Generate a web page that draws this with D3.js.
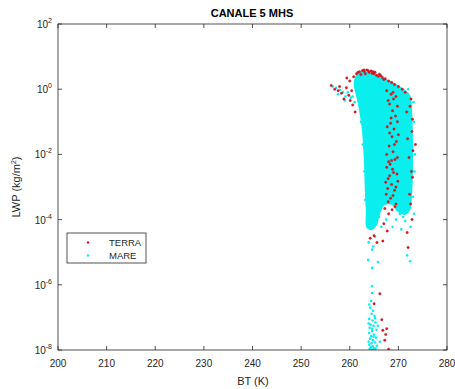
<!DOCTYPE html>
<html>
<head>
<meta charset="utf-8">
<script src="https://cdn.jsdelivr.net/npm/d3@7"></script>
<style>
  body { margin: 0; background: #fff; }
  svg { display: block; font-family: "Liberation Sans", Arial, sans-serif; }
</style>
</head>
<body>
<svg width="455" height="389"></svg>
<script>
// tick values
const xTicks = [200, 210, 220, 230, 240, 250, 260, 270, 280];
const yExps = [2, 0, -2, -4, -6, -8];

// outline of the dense MARE cloud (BT, LWP)
const cloudBT = [260.9, 261.5, 262.5, 264.2, 265.8, 267.9, 269.9, 271.4, 272.4, 272.8, 273.0, 273.0, 272.8,
  272.4, 271.4, 269.9, 268.7, 267.2, 266.2, 265.6, 264.6, 263.5, 263.3, 263.1, 262.9, 262.5, 261.9, 261.4, 260.9];
const cloudLWP = [1.9, 2.95, 3.4, 3.2, 2.5, 1.9, 1.35, 0.95, 0.66, 0.23, 0.028, 3.3e-3, 5.6e-4,
  1.9e-4, 1.4e-4, 1.7e-4, 2.8e-4, 2.8e-4, 1.4e-4, 6.8e-5, 4.8e-5, 5.5e-5, 1.9e-4, 8.1e-4, 6.8e-3, 0.056, 0.23, 0.54, 1.1];

// MARE scatter points outside / on the edge of the cloud
const mare = [
  [256.5, 1.2], [257.2, 1.1], [258.0, 0.95], [258.6, 0.8], [259.1, 0.6], [259.6, 0.8], [260.2, 0.55],
  [260.6, 0.6], [261.0, 0.4], [257.6, 0.7], [259.0, 0.45], [262.3, 0.1], [262.7, 0.02], [263.0, 3e-3],
  [263.2, 4e-4], [273.2, 0.1], [273.1, 0.4], [272.0, 1.0], [273.0, 5e-4],
  [270.3, 1.5e-4], [271.0, 1.2e-4], [272.0, 2e-4], [271.4, 9e-5], [272.5, 6e-5], [270.6, 5e-5],
  [271.8, 8e-6], [272.4, 5.3e-6], [273.2, 1.5e-4], [273.4, 0.01], [273.3, 0.003], [269.5, 1e-4],
  [268.8, 6e-5], [267.5, 1e-4], [266.5, 6e-5], [266.0, 1.2e-4], [264.8, 1.5e-5], [265.8, 5e-6],
  [263.8, 5.8e-6], [264.6, 1.2e-5], [263.9, 2e-5], [265.2, 3e-5],
  [264.6, 3.3e-6], [264.6, 9e-7], [264.6, 5.6e-7], [264.4, 3.2e-7], [264.0, 2.5e-7],
  [264.2, 2.0e-7], [264.8, 1.6e-7], [264.5, 1.3e-7], [265.1, 1.1e-7], [264.0, 9e-8], [264.7, 8e-8],
  [265.3, 7e-8], [264.3, 6e-8], [264.9, 5.5e-8], [264.1, 4.8e-8], [265.5, 4.2e-8], [264.6, 3.8e-8],
  [264.0, 3.3e-8], [265.0, 3.0e-8], [264.4, 2.7e-8], [265.4, 2.4e-8], [264.2, 2.2e-8], [264.8, 2.0e-8],
  [263.9, 1.8e-8], [265.2, 1.7e-8], [264.5, 1.6e-8], [264.0, 1.45e-8], [265.6, 1.35e-8], [264.7, 1.3e-8],
  [264.3, 1.2e-8], [265.0, 1.15e-8], [264.1, 1.08e-8], [264.9, 1.05e-8], [264.5, 1.02e-8], [265.3, 1.1e-8],
  [264.9, 2.6e-8], [265.8, 5.5e-8], [266.2, 1.8e-8], [264.6, 4.5e-8], [263.9, 6.5e-8], [265.2, 9.5e-8]
];

// TERRA scatter points
const terra = [
  [259.4, 2.2], [260.0, 1.8], [260.8, 2.4], [261.4, 3.0], [262.0, 3.4], [262.6, 3.7], [263.0, 3.5],
  [263.5, 3.9], [264.0, 3.3], [264.4, 3.6], [265.0, 3.0], [265.5, 2.7], [266.1, 2.9], [266.7, 2.3],
  [267.3, 2.1], [268.0, 1.8], [268.6, 1.6], [269.2, 1.4], [270.0, 1.2], [270.8, 1.0], [271.4, 0.8],
  [263.2, 3.0], [262.3, 2.8], [264.8, 3.4], [261.7, 3.3], [262.9, 3.9], [263.8, 3.7], [264.6, 3.1],
  [265.2, 3.3], [265.9, 2.5], [266.4, 2.6], [267.0, 2.0],
  [256.2, 1.3], [256.9, 1.0], [257.6, 0.9], [258.3, 0.75], [259.3, 1.1], [259.8, 0.65], [260.1, 0.45],
  [260.6, 0.33], [261.1, 0.2], [258.8, 0.5], [257.9, 1.2], [260.4, 0.9],
  [268.5, 0.7], [269.0, 0.5], [268.2, 0.35], [268.8, 0.22], [269.4, 0.15], [268.4, 0.09], [269.1, 0.06],
  [268.7, 0.035], [269.6, 0.025], [268.1, 0.018], [268.9, 0.012], [269.3, 7e-3], [268.3, 5e-3],
  [268.8, 3.5e-3], [269.7, 2.5e-3], [267.9, 1.8e-3], [268.6, 1.2e-3], [269.2, 8e-4], [267.5, 6e-4],
  [268.4, 4.5e-4], [269.5, 3e-4], [267.2, 2.2e-4], [268.0, 1.5e-4], [269.3, 2.5e-4], [267.8, 9e-4],
  [270.0, 0.04], [268.0, 0.006], [269.9, 0.0015],
  [267.6, 0.9], [268.9, 0.8], [269.5, 0.6], [267.9, 0.45], [269.8, 0.3], [268.5, 0.13], [267.7, 0.07],
  [269.8, 0.1], [268.2, 0.045], [269.2, 0.02], [267.6, 0.01], [269.8, 0.008], [268.6, 0.0065],
  [267.6, 0.004], [269.0, 0.0028], [268.2, 0.0022], [267.4, 0.0014], [269.5, 0.001], [268.9, 5.5e-4],
  [267.9, 3.5e-4], [268.7, 2e-4],
  [272.6, 0.5], [272.9, 0.12], [273.0, 0.013], [272.7, 3e-3], [272.3, 6e-4], [271.9, 0.03], [272.8, 1e-4],
  [272.4, 0.3], [272.8, 0.05], [272.2, 0.008], [272.9, 0.002], [272.5, 3e-4], [271.7, 0.2], [273.5, 0.02],
  [264.2, 2.7e-5], [265.6, 2e-5], [266.8, 2.2e-5], [267.7, 4.5e-5], [267.0, 7.5e-5], [271.8, 4e-5],
  [272.0, 1.4e-5], [265.0, 3.2e-5], [266.2, 5.3e-7], [265.0, 2.6e-7], [266.6, 8.5e-8], [267.6, 4.5e-8],
  [266.8, 4e-8], [267.2, 2e-8], [268.0, 1.05e-8], [267.4, 3e-8]
];

const svg = d3.select('svg');
const mLeft = 58, mTop = 24, mRight = 447, mBottom = 350;
const ink = '#262626';
const cyan = '#0aeeee';
const red = '#e8141c';

const x = d3.scaleLinear().domain([200, 280]).range([mLeft, mRight]);
const y = d3.scaleLog().domain([1e-8, 1e2]).range([mBottom, mTop]);

const plot = svg.append('g');
plot.append('clipPath').attr('id', 'clip')
  .append('rect').attr('x', mLeft).attr('y', mTop).attr('width', mRight - mLeft).attr('height', mBottom - mTop);
const marks = plot.append('g').attr('clip-path', 'url(#clip)');

// dense cloud
const cloud = d3.line().x(d => x(d[0])).y(d => y(d[1])).curve(d3.curveCatmullRomClosed);
marks.append('path')
  .datum(cloudBT.map((b, i) => [b, cloudLWP[i]]))
  .attr('d', cloud)
  .attr('fill', cyan);

marks.selectAll('.mare').data(mare).join('circle')
  .attr('cx', d => x(d[0])).attr('cy', d => y(d[1])).attr('r', 1.3)
  .attr('fill', cyan);

marks.selectAll('.terra').data(terra).join('circle')
  .attr('cx', d => x(d[0])).attr('cy', d => y(d[1])).attr('r', 1.25)
  .attr('fill', red).attr('stroke', '#9a2030').attr('stroke-width', 0.3);

// axes box and inward ticks
const axes = svg.append('g').attr('stroke', ink).attr('stroke-width', 0.8).attr('fill', 'none');
axes.append('rect').attr('x', mLeft).attr('y', mTop).attr('width', mRight - mLeft).attr('height', mBottom - mTop);
xTicks.forEach(t => {
  axes.append('line').attr('x1', x(t)).attr('x2', x(t)).attr('y1', mBottom).attr('y2', mBottom - 4);
  axes.append('line').attr('x1', x(t)).attr('x2', x(t)).attr('y1', mTop).attr('y2', mTop + 4);
});
yExps.forEach(e => {
  axes.append('line').attr('x1', mLeft).attr('x2', mLeft + 4).attr('y1', y(10 ** e)).attr('y2', y(10 ** e));
  axes.append('line').attr('x1', mRight).attr('x2', mRight - 4).attr('y1', y(10 ** e)).attr('y2', y(10 ** e));
});

// tick labels
svg.append('g').selectAll('text').data(xTicks).join('text')
  .attr('x', d => x(d)).attr('y', 367)
  .attr('text-anchor', 'middle').attr('font-size', 10).attr('fill', ink)
  .text(d => d);

const yl = svg.append('g').selectAll('text').data(yExps).join('text')
  .attr('x', 52).attr('y', d => y(10 ** d) + 4)
  .attr('text-anchor', 'end').attr('font-size', 10).attr('fill', ink);
yl.append('tspan').text('10');
yl.append('tspan').attr('dy', -5).attr('font-size', 7).text(d => d);

// titles
svg.append('text').attr('x', 252).attr('y', 17).attr('text-anchor', 'middle')
  .attr('font-size', 11).attr('font-weight', 'bold').attr('fill', '#000').text('CANALE 5 MHS');
svg.append('text').attr('x', 253).attr('y', 385).attr('text-anchor', 'middle')
  .attr('font-size', 11).attr('fill', ink).text('BT (K)');
const ylab = svg.append('text').attr('transform', `translate(20,${(mTop + mBottom) / 2}) rotate(-90)`)
  .attr('text-anchor', 'middle').attr('font-size', 11).attr('fill', ink);
ylab.append('tspan').text('LWP (kg/m');
ylab.append('tspan').attr('dy', -4).attr('font-size', 7).text('2');
ylab.append('tspan').attr('dy', 4).text(')');

// legend
const lg = svg.append('g').attr('transform', 'translate(67,233)');
lg.append('rect').attr('width', 79).attr('height', 30).attr('fill', '#fff').attr('stroke', ink).attr('stroke-width', 0.8);
[['TERRA', red], ['MARE', cyan]].forEach(([name, c], i) => {
  lg.append('circle').attr('cx', 21).attr('cy', 9.5 + i * 13).attr('r', 1.2).attr('fill', c);
  lg.append('text').attr('x', 42).attr('y', 13 + i * 13).attr('font-size', 9.5).attr('fill', ink).text(name);
});
</script>
</body>
</html>
